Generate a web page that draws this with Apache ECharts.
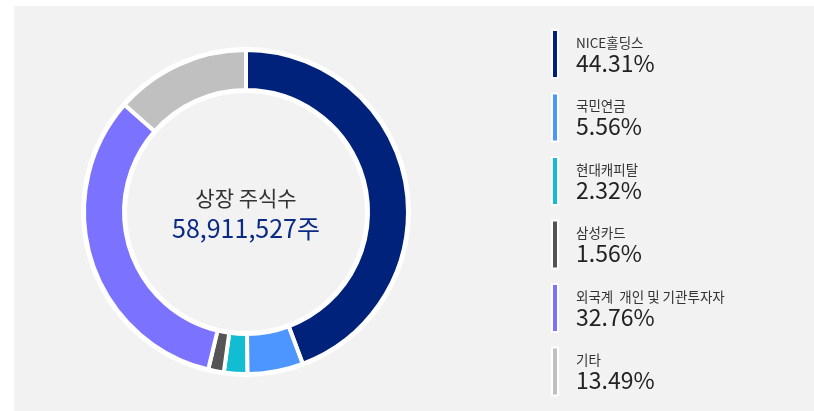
<!DOCTYPE html>
<html>
<head>
<meta charset="utf-8">
<script src="https://cdn.jsdelivr.net/npm/echarts@6/dist/echarts.min.js"></script>
<style>
  body { margin: 0; background: #fff; }
  #wrap { position: relative; width: 814px; height: 411px; }
  #chart { position: absolute; left: 14px; top: 6px; width: 800px; height: 405px; background: #f2f2f2; }
</style>
</head>
<body>
<div id="wrap"><div id="chart"></div></div>
<script>
// 주주 구성
const names = ["NICE홀딩스", "국민연금", "현대캐피탈", "삼성카드", "외국계  개인 및 기관투자자", "기타"];
const shares = [44.31, 5.56, 2.32, 1.56, 32.76, 13.49];
const colors = ["#00227a", "#4d96ff", "#12bcd2", "#555555", "#7b73ff", "#c0c0c0"];
const totalLabel = "상장 주식수";
const totalValue = "58,911,527주";

const font = "'Noto Sans CJK KR', 'Noto Sans', sans-serif";
const chart = echarts.init(document.getElementById("chart"));

chart.setOption({
  animation: false,
  legend: {
    orient: "vertical",
    left: 537,
    top: 23,
    height: 390,
    padding: 0,
    itemWidth: 6,
    itemHeight: 48,
    itemGap: 13.5,
    icon: "rect",
    selectedMode: false,
    data: names,
    formatter: function (name) {
      const i = names.indexOf(name);
      return "{n|" + name + "}\n{p|" + shares[i].toFixed(2) + "%}";
    },
    textStyle: {
      fontFamily: font,
      padding: [0, 0, 0, 13],
      rich: {
        n: { fontSize: 13.5, color: "#333", lineHeight: 18, fontFamily: font },
        p: { fontSize: 23, color: "#222", lineHeight: 23, fontFamily: font },
      },
    },
  },
  graphic: [
    {
      type: "text",
      style: {
        text: totalLabel,
        x: 232,
        y: 192,
        textAlign: "center",
        textVerticalAlign: "middle",
        fontSize: 21,
        fontFamily: font,
        fill: "#333",
      },
    },
    {
      type: "text",
      style: {
        text: totalValue,
        x: 232,
        y: 222,
        textAlign: "center",
        textVerticalAlign: "middle",
        fontSize: 25,
        fontFamily: font,
        fill: "#0b2a86",
      },
    },
  ],
  series: [
    {
      // 흰색 테두리 링
      type: "pie",
      silent: true,
      center: [232, 206],
      radius: [119, 165],
      label: { show: false },
      emphasis: { disabled: true },
      itemStyle: { color: "#fff" },
      data: [{ value: 1, name: "" }],
      z: 1,
    },
    {
      type: "pie",
      center: [232, 206],
      radius: [122, 162],
      startAngle: 90,
      clockwise: true,
      label: { show: false },
      labelLine: { show: false },
      emphasis: { scale: false },
      itemStyle: { borderColor: "#fff", borderWidth: 4 },
      data: names.map((n, i) => ({
        name: n,
        value: shares[i],
        itemStyle: { color: colors[i] },
      })),
      z: 2,
    },
  ],
});
</script>
</body>
</html>
